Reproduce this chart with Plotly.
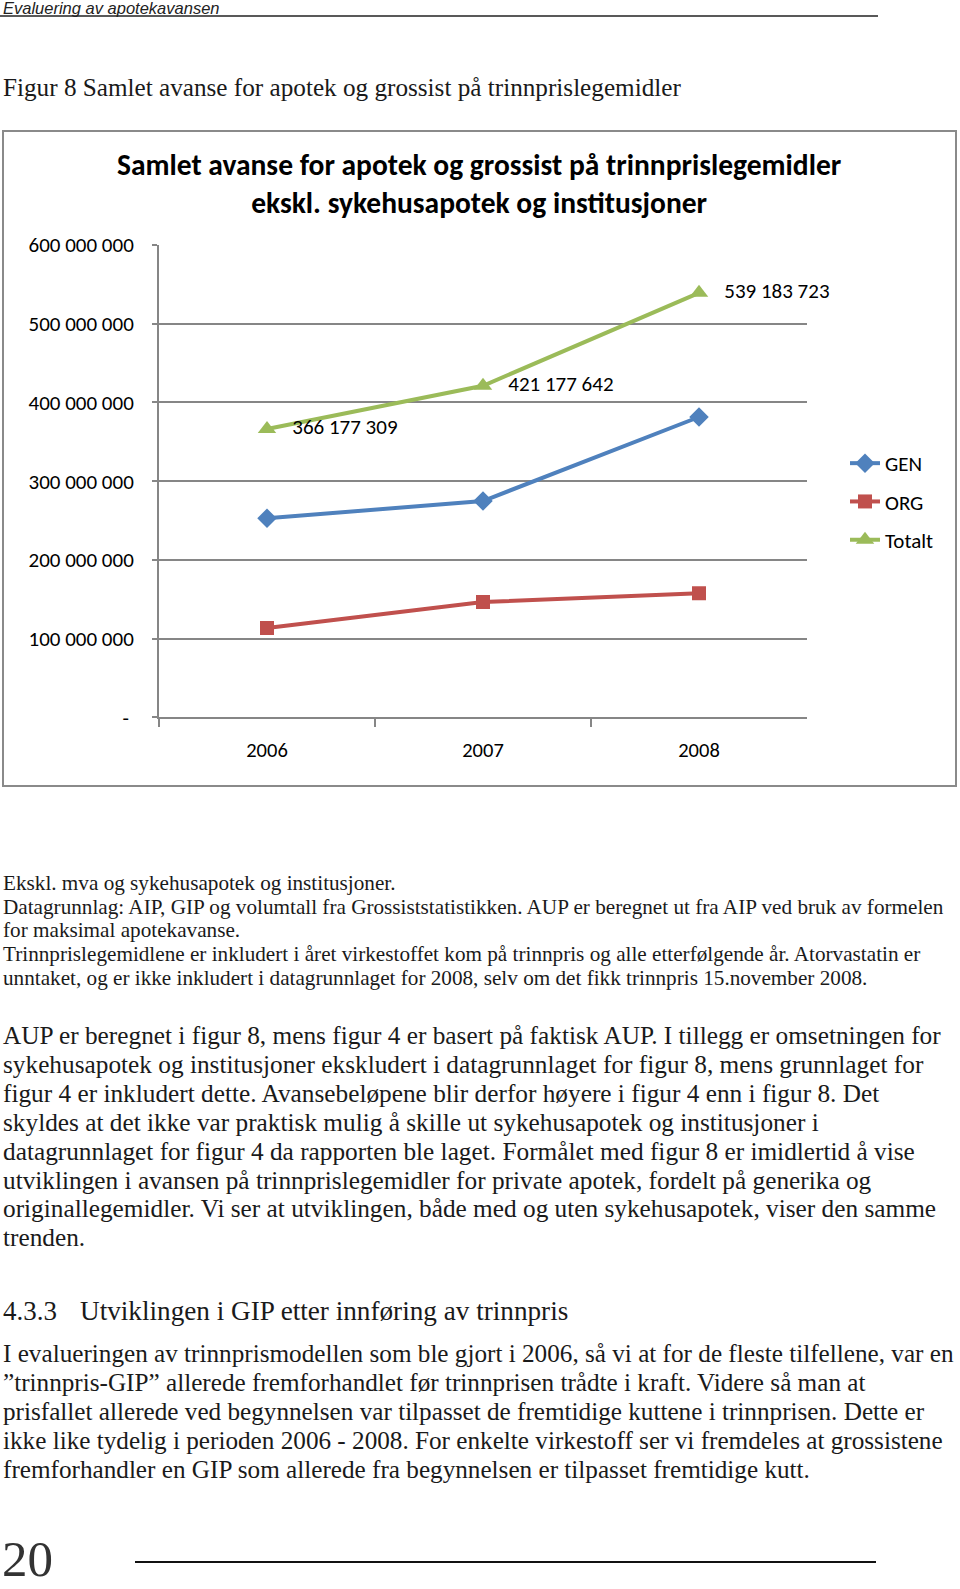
import plotly.graph_objects as go

W, H = 960, 1589

# ---------------- data ----------------
years = ["2006", "2007", "2008"]
gen = [252.8e6, 274.8e6, 381.5e6]
org = [113.4e6, 146.4e6, 157.7e6]
totalt = [366177309, 421177642, 539183723]
totalt_labels = ["366 177 309", "421 177 642", "539 183 723"]
ytick_vals = [0, 1e8, 2e8, 3e8, 4e8, 5e8, 6e8]
ytick_text = ["- ", "100 000 000", "200 000 000", "300 000 000",
              "400 000 000", "500 000 000", "600 000 000"]

chart_title = ("Samlet avanse for apotek og grossist på trinnprislegemidler<br>"
               "ekskl. sykehusapotek og institusjoner")
header = "Evaluering av apotekavansen"
fig_caption = "Figur 8 Samlet avanse for apotek og grossist på trinnprislegemidler"
notes = [
    "Ekskl. mva og sykehusapotek og institusjoner.",
    "Datagrunnlag: AIP, GIP og volumtall fra Grossiststatistikken. AUP er beregnet ut fra AIP ved bruk av formelen",
    "for maksimal apotekavanse.",
    "Trinnprislegemidlene er inkludert i året virkestoffet kom på trinnpris og alle etterfølgende år. Atorvastatin er",
    "unntaket, og er ikke inkludert i datagrunnlaget for 2008, selv om det fikk trinnpris 15.november 2008.",
]
para1 = [
    "AUP er beregnet i figur 8, mens figur 4 er basert på faktisk AUP. I tillegg er omsetningen for",
    "sykehusapotek og institusjoner ekskludert i datagrunnlaget for figur 8, mens grunnlaget for",
    "figur 4 er inkludert dette. Avansebeløpene blir derfor høyere i figur 4 enn i figur 8. Det",
    "skyldes at det ikke var praktisk mulig å skille ut sykehusapotek og institusjoner i",
    "datagrunnlaget for figur 4 da rapporten ble laget. Formålet med figur 8 er imidlertid å vise",
    "utviklingen i avansen på trinnprislegemidler for private apotek, fordelt på generika og",
    "originallegemidler. Vi ser at utviklingen, både med og uten sykehusapotek, viser den samme",
    "trenden.",
]
heading_num = "4.3.3"
heading_text = "Utviklingen i GIP etter innføring av trinnpris"
para2 = [
    "I evalueringen av trinnprismodellen som ble gjort i 2006, så vi at for de fleste tilfellene, var en",
    "”trinnpris-GIP” allerede fremforhandlet før trinnprisen trådte i kraft. Videre så man at",
    "prisfallet allerede ved begynnelsen var tilpasset de fremtidige kuttene i trinnprisen. Dette er",
    "ikke like tydelig i perioden 2006 - 2008. For enkelte virkestoff ser vi fremdeles at grossistene",
    "fremforhandler en GIP som allerede fra begynnelsen er tilpasset fremtidige kutt.",
]
page_no = "20"

# ---------------- helpers ----------------
def px(x):
    return x / W

def py(y):
    return 1 - y / H

SANS = "Carlito, Calibri, Lato, sans-serif"
SERIF = "Liberation Serif, Times New Roman, serif"

BLUE, RED, GREEN = "#4F81BD", "#C0504D", "#9BBB59"

fig = go.Figure()
fig.add_trace(go.Scatter(x=years, y=gen, name="GEN", mode="lines+markers",
                         line=dict(color=BLUE, width=4),
                         marker=dict(symbol="diamond", size=15, color=BLUE),
                         legendgroup="a"))
fig.add_trace(go.Scatter(x=years, y=org, name="ORG", mode="lines+markers",
                         line=dict(color=RED, width=4),
                         marker=dict(symbol="square", size=14, color=RED),
                         legendgroup="b"))
fig.add_trace(go.Scatter(x=years, y=totalt, name="Totalt", mode="lines+markers+text",
                         text=["   " + t for t in totalt_labels], textposition="middle right",
                         textfont=dict(family=SANS, size=21, color="#000"),
                         line=dict(color=GREEN, width=4),
                         marker=dict(symbol="triangle-up", size=16, color=GREEN),
                         legendgroup="c", cliponaxis=False))

y0, y600 = 717.3, 245.0
fig.update_layout(
    width=W, height=H,
    margin=dict(l=0, r=0, t=0, b=0, pad=0, autoexpand=False),
    paper_bgcolor="white", plot_bgcolor="white",
    showlegend=True,
    legend=dict(x=px(845), y=py(443), xanchor="left", yanchor="top",
                font=dict(family=SANS, size=21, color="#000"),
                tracegroupgap=8, bgcolor="rgba(0,0,0,0)"),
    xaxis=dict(domain=[px(159), px(807)], type="category", range=[-0.5, 2.5],
               showline=True, linecolor="#868686", linewidth=2,
               ticks="outside", ticklen=8, tickcolor="#868686", tickwidth=2,
               tickson="boundaries", showgrid=False, zeroline=False, automargin=False,
               tickfont=dict(family=SANS, size=20.5, color="#000"),
               ticklabelstandoff=13),
    yaxis=dict(domain=[py(y0), py(y600)], range=[0, 6e8],
               tickvals=ytick_vals, ticktext=ytick_text,
               showline=True, linecolor="#868686", linewidth=2,
               ticks="outside", ticklen=5, tickcolor="#868686", tickwidth=2,
               showgrid=True, gridcolor="#868686", gridwidth=2, zeroline=False, automargin=False,
               tickfont=dict(family=SANS, size=21, color="#000"),
               ticklabelstandoff=14),
)

shapes = [
    # chart frame
    dict(type="rect", xref="paper", yref="paper", x0=px(3), x1=px(956), y0=py(786), y1=py(131),
         line=dict(color="#8a8a8a", width=2), fillcolor="rgba(0,0,0,0)", layer="below"),
    # header rule
    dict(type="line", xref="paper", yref="paper", x0=px(0), x1=px(878), y0=py(16), y1=py(16),
         line=dict(color="#222", width=1.5)),
    # footer rule
    dict(type="line", xref="paper", yref="paper", x0=px(135), x1=px(876), y0=py(1562), y1=py(1562),
         line=dict(color="#111", width=2)),
]
fig.update_layout(shapes=shapes)

ann = []

def add(text, x, y, size, family=SERIF, color="#1a1a1a", xanchor="left", align="left",
        yanchor="middle"):
    ann.append(dict(text=text, x=px(x), y=py(y), xref="paper", yref="paper",
                    xanchor=xanchor, yanchor=yanchor, align=align, showarrow=False,
                    font=dict(family=family, size=size, color=color)))

add("<i>" + header + "</i>", 1, 8, 16.5, family="Liberation Sans, Arial, sans-serif",
    color="#222")
add(fig_caption, 1, 87, 25.2)
# chart title
ann.append(dict(text="<b>" + chart_title + "</b>", x=px(479), y=py(184), xref="paper", yref="paper",
                xanchor="center", yanchor="middle", align="center", showarrow=False,
                font=dict(family=SANS, size=29.5, color="#000")))

for i, t in enumerate(notes):
    add(t, 1, 883 + i * 23.7, 21.2)
for i, t in enumerate(para1):
    add(t, 1, 1035 + i * 28.9, 25.3)
add(heading_num, 1, 1311, 27)
add(heading_text, 78, 1311, 27.2)
for i, t in enumerate(para2):
    add(t, 1, 1353 + i * 29.0, 25.2)
add(page_no, 0, 1589, 51, color="#333", yanchor="bottom")

fig.update_layout(annotations=ann)

post = ("document.documentElement.style.margin='0';document.body.style.margin='0';"
        "document.body.style.padding='0';document.documentElement.style.overflow='hidden';"
        "document.body.style.overflow='hidden';"
        "var d=document.getElementById('{plot_id}');d.style.position='absolute';"
        "d.style.top='0px';d.style.left='0px';")
fig.write_html("out.html", post_script=post, config={"displayModeBar": False})
